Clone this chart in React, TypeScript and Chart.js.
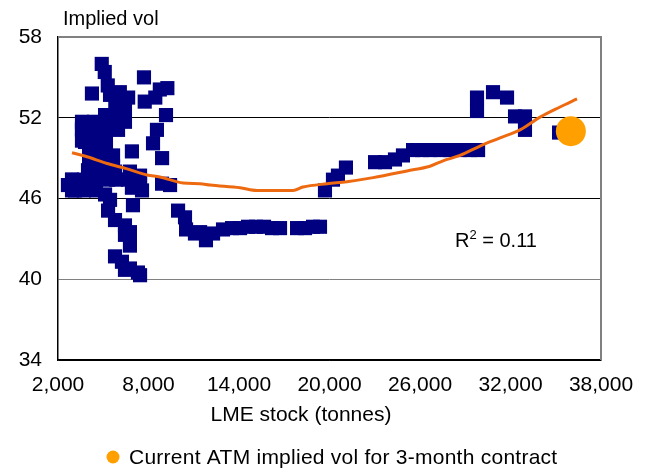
import React, { useEffect, useRef } from "react";
import { Chart, registerables } from "chart.js";

Chart.register(...registerables);

// LME stock (tonnes) vs. implied volatility observations
const stockX = [
  4900, 5100, 5300, 7700, 4250, 5450, 6100, 6650, 5800, 8750, 9250, 7750, 8450, 9160, 8560, 8300,
  8900, 8900, 9430, 6900, 5120, 5980, 6440, 5580, 6440, 3590, 4450, 3590, 4790, 4120, 5120, 3990,
  4920, 5780, 2930, 3130, 6770, 7440, 6900, 7570, 6970, 5120, 5450, 5320, 5780, 6440, 6770, 6440,
  6770, 5780, 6240, 6770, 7300, 7440, 6440, 2660, 3460, 4120,
  3590, 4390, 5180, 5980, 3590, 4390, 5180, 5980, 3790, 4590, 5180, 4060, 4850, 5650, 4060, 4850,
  5650, 2930, 3720, 4520, 5320, 5850, 2930, 3720, 4520, 6640, 7440,
  9960, 10420, 10490, 11080, 11420, 11810,
  12280, 12940, 13540, 14070, 14600, 15130, 15660, 16190, 16720, 17850, 18380, 18910, 19370, 19700, 20230, 20560,
  21090, 23020, 23680, 24340, 24870, 25540, 26130, 26660, 27330, 27990, 28650, 29320, 29850, 29780, 29780, 30840,
  31770, 32300, 32960, 32960, 35220,
];
const volY = [
  56.0, 55.4, 54.4, 55.0, 53.8, 53.7, 53.9, 53.5, 53.2, 54.1, 54.2, 53.2, 53.5, 52.2, 51.1, 50.1,
  49.0, 47.1, 47.0, 49.5, 52.2, 52.4, 52.7, 51.5, 51.7, 51.2, 51.2, 50.3, 50.3, 49.2, 49.0, 48.1,
  47.7, 48.0, 47.4, 46.6, 48.0, 47.7, 46.8, 46.6, 45.5, 46.3, 45.9, 45.1, 44.4, 44.0, 43.5, 43.3,
  42.5, 41.7, 41.3, 40.8, 40.5, 40.3, 40.7, 47.0, 47.0, 47.0,
  51.7, 51.7, 51.7, 51.7, 51.1, 51.1, 51.1, 51.1, 50.2, 50.2, 50.2, 49.2, 49.2, 49.2, 48.4, 48.4,
  48.4, 47.4, 47.4, 47.4, 47.4, 47.4, 46.6, 46.6, 46.6, 47.4, 47.2,
  45.1, 44.6, 43.7, 43.4, 43.5, 42.9,
  43.4, 43.7, 43.8, 43.8, 43.9, 43.9, 43.9, 43.8, 43.8, 43.8, 43.8, 43.9, 43.9, 46.6, 47.4, 47.7,
  48.3, 48.7, 48.7, 48.9, 49.2, 49.6, 49.6, 49.6, 49.6, 49.6, 49.6, 49.6, 49.6, 53.5, 52.5, 53.9,
  53.5, 52.1, 52.1, 51.1, 50.9,
];

// Fitted trend through the observations
const trendX = [
  2930, 3920, 5250, 6580, 7900, 8760, 10290, 11420, 12080, 14070, 15190, 17580, 18240, 19840, 21160,
  22890, 25140, 26660, 27530, 28650, 29980, 31310, 32630, 33960, 35280, 36410,
];
const trendY = [
  49.4, 49.1, 48.6, 48.2, 47.75, 47.6, 47.15, 47.1, 47.0, 46.8, 46.6, 46.6, 46.85, 47.1, 47.25,
  47.55, 48.05, 48.4, 48.8, 49.2, 49.9, 50.5, 51.1, 52.05, 52.8, 53.4,
];

// Current at-the-money implied vol
const currentStock = [36000];
const currentVol = [51.0];

const xTicks = [2000, 8000, 14000, 20000, 26000, 32000, 38000];
const yTicks = [34, 40, 46, 52, 58];

const yTitle = "Implied vol";
const xTitle = "LME stock (tonnes)";
const legendLabel = "Current ATM implied vol for 3-month contract";
const rSquared = "0.11";

const FONT = "'Liberation Sans', Arial, sans-serif";
const NAVY = "#000080";
const TREND = "#EE6A10";
const DOT = "#FFA000";

const annotations = {
  id: "annotations",
  afterDraw(chart: any) {
    const { ctx, chartArea } = chart;
    ctx.save();
    // top and right frame of the plot area
    ctx.strokeStyle = "#808080";
    ctx.lineWidth = 2;
    ctx.beginPath();
    ctx.moveTo(chartArea.left, chartArea.top);
    ctx.lineTo(chartArea.right, chartArea.top);
    ctx.lineTo(chartArea.right, chartArea.bottom);
    ctx.stroke();

    ctx.fillStyle = "#000";
    ctx.textBaseline = "alphabetic";
    ctx.textAlign = "left";
    ctx.font = `20px ${FONT}`;
    ctx.fillText(yTitle, 63, 25);

    ctx.textAlign = "center";
    ctx.font = `21px ${FONT}`;
    ctx.fillText(xTitle, 301, 421);

    // legend entry
    ctx.fillStyle = DOT;
    ctx.beginPath();
    ctx.arc(113, 457, 6.5, 0, Math.PI * 2);
    ctx.fill();
    ctx.fillStyle = "#000";
    ctx.textAlign = "left";
    ctx.font = `21px ${FONT}`;
    if ("letterSpacing" in ctx) (ctx as any).letterSpacing = "0.25px";
    ctx.fillText(legendLabel, 129, 464);
    if ("letterSpacing" in ctx) (ctx as any).letterSpacing = "0px";

    // R² label
    let x = 455;
    const base = 247;
    ctx.font = `20px ${FONT}`;
    ctx.fillText("R", x, base);
    x += ctx.measureText("R").width;
    ctx.font = `13px ${FONT}`;
    ctx.fillText("2", x, base - 8);
    x += ctx.measureText("2").width;
    ctx.font = `20px ${FONT}`;
    ctx.fillText(" = " + rSquared, x, base);
    ctx.restore();
  },
};

export default function App() {
  const canvasRef = useRef<HTMLCanvasElement | null>(null);

  useEffect(() => {
    document.body.style.margin = "0";
    const canvas = canvasRef.current;
    if (!canvas) return;
    const chart = new Chart(canvas, {
      type: "scatter",
      data: {
        datasets: [
          {
            label: legendLabel,
            data: currentStock.map((s, i) => ({ x: s, y: currentVol[i] })),
            backgroundColor: DOT,
            borderWidth: 0,
            pointRadius: 15,
            pointStyle: "circle",
            order: 0,
          },
          {
            label: "Trend",
            type: "line",
            data: trendX.map((s, i) => ({ x: s, y: trendY[i] })),
            borderColor: TREND,
            borderWidth: 3,
            pointRadius: 0,
            tension: 0.4,
            cubicInterpolationMode: "monotone",
            fill: false,
            order: 1,
          },
          {
            label: "Observations",
            data: stockX.map((s, i) => ({ x: s, y: volY[i] })),
            backgroundColor: NAVY,
            borderWidth: 0,
            pointStyle: "rect",
            pointRadius: 10,
            order: 2,
          },
        ],
      },
      options: {
        responsive: false,
        animation: false,
        layout: { padding: { top: 37, right: 50, left: 0, bottom: 0 } },
        plugins: {
          legend: { display: false },
          tooltip: { enabled: false },
        },
        scales: {
          x: {
            type: "linear",
            min: 2000,
            max: 38000,
            afterBuildTicks: (scale: any) => {
              scale.ticks = xTicks.map((v) => ({ value: v }));
            },
            afterFit: (scale: any) => {
              scale.height = 111;
            },
            grid: { display: false, drawTicks: false },
            border: { display: true, color: "#000", width: 1.5 },
            ticks: {
              color: "#000",
              font: { family: FONT, size: 21 },
              padding: 13,
              maxRotation: 0,
              callback: (v: any) => Number(v).toLocaleString("en-US"),
            },
          },
          y: {
            type: "linear",
            min: 34,
            max: 58,
            afterBuildTicks: (scale: any) => {
              scale.ticks = yTicks.map((v) => ({ value: v }));
            },
            afterFit: (scale: any) => {
              scale.width = 58;
            },
            grid: {
              drawTicks: false,
              color: (c: any) => (c.tick && (c.tick.value === 40 || c.tick.value === 58) ? "#808080" : "#000"),
              lineWidth: 1,
            },
            border: { display: true, color: "#000", width: 1.5 },
            ticks: {
              color: "#000",
              font: { family: FONT, size: 21 },
              padding: 16,
            },
          },
        },
      },
      plugins: [annotations],
    });
    return () => chart.destroy();
  }, []);

  return (
    <div style={{ position: "absolute", left: 0, top: 0, width: 651, height: 471, background: "#fff" }}>
      <canvas ref={canvasRef} width={651} height={471} style={{ display: "block" }} />
    </div>
  );
}
